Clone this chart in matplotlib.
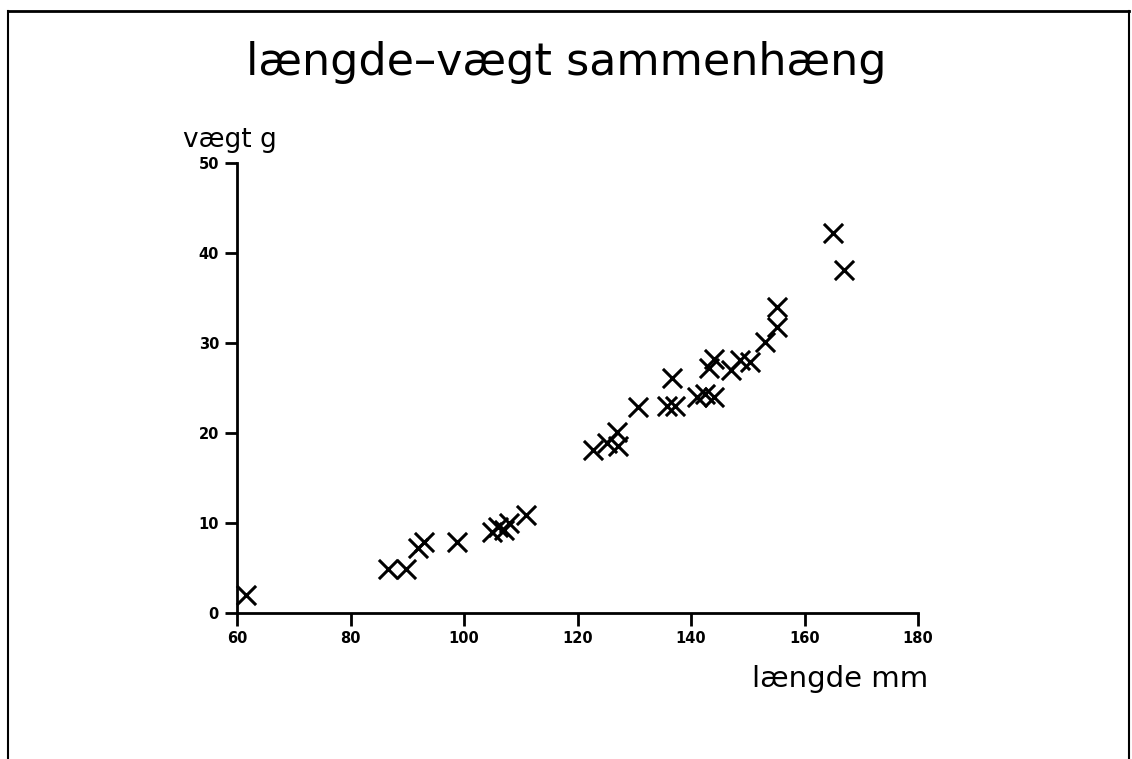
import matplotlib
matplotlib.use("Agg")
import matplotlib.pyplot as plt
from matplotlib.lines import Line2D

# data (length mm, weight g)
laengde = [61.5, 86.6, 89.8, 91.9, 93.0, 98.8, 105.0, 106.0, 107.0, 108.0, 111.0,
           122.8, 125.2, 127.0, 127.1, 130.7, 136.7, 135.8, 137.2, 141.0, 142.5,
           144.0, 143.2, 144.0, 147.0, 148.6, 150.4, 153.0, 155.2, 155.2, 165.0, 167.0]
vaegt = [2.0, 4.9, 4.9, 7.2, 7.9, 7.9, 9.0, 9.5, 9.2, 10.0, 10.9,
         18.1, 18.9, 20.1, 18.5, 22.9, 26.1, 23.0, 23.0, 24.0, 24.3,
         24.0, 27.2, 28.2, 27.0, 28.1, 27.9, 30.1, 31.8, 34.0, 42.2, 38.1]

xticks = [60, 80, 100, 120, 140, 160, 180]
yticks = [0, 10, 20, 30, 40, 50]

fig = plt.figure(figsize=(11.32, 7.59), dpi=100)
ax = fig.add_axes([0.2094, 0.1924, 0.6016, 0.5929])

ax.scatter(laengde, vaegt, marker="x", s=190, c="black", linewidths=2.2, clip_on=False)

ax.set_xlim(60, 180)
ax.set_ylim(0, 50)
ax.set_xticks(xticks)
ax.set_yticks(yticks)
ax.tick_params(direction="out", length=9, width=2, labelsize=10.5, pad=4)
for lab in ax.get_xticklabels() + ax.get_yticklabels():
    lab.set_fontweight("bold")
ax.spines["top"].set_visible(False)
ax.spines["right"].set_visible(False)
ax.spines["left"].set_linewidth(2)
ax.spines["bottom"].set_linewidth(2)

# titles and axis names
fig.text(0.5, 0.917, "længde–vægt sammenhæng", ha="center", va="center", fontsize=32)
fig.text(0.162, 0.815, "vægt g", ha="left", va="center", fontsize=19)
fig.text(0.664, 0.106, "længde mm", ha="left", va="center", fontsize=21)

# frame around the figure
fig.add_artist(Line2D([0.007, 0.007], [0.0, 0.985], color="black", lw=1.5))
fig.add_artist(Line2D([0.997, 0.997], [0.0, 0.985], color="black", lw=1.5))
fig.add_artist(Line2D([0.007, 0.997], [0.985, 0.985], color="black", lw=2))

fig.savefig("out.png", dpi=100)
